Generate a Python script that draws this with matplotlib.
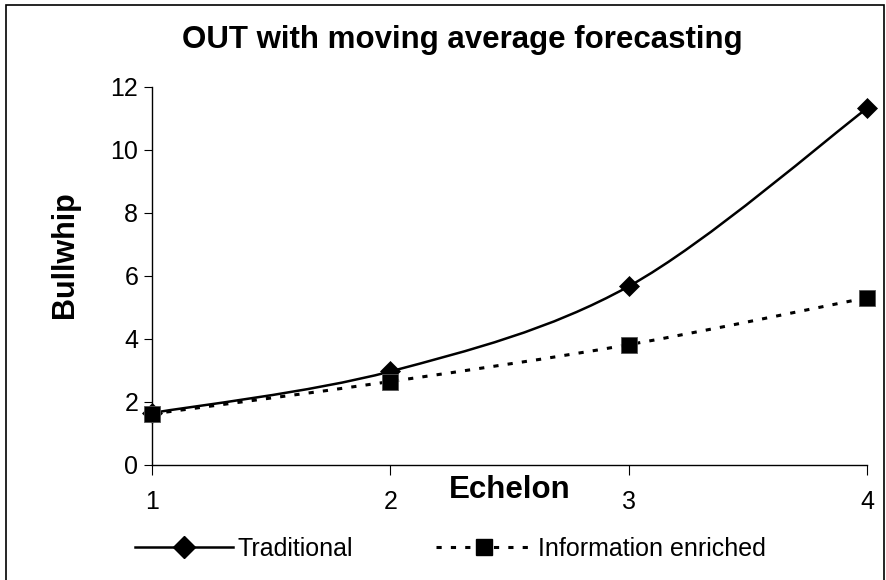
import numpy as np
import matplotlib.pyplot as plt
from matplotlib.path import Path
from matplotlib.patches import PathPatch, Rectangle
from matplotlib.lines import Line2D

plt.rcParams['font.family'] = ['Liberation Sans', 'DejaVu Sans']

echelon = [1, 2, 3, 4]
traditional = [1.65, 2.97, 5.67, 11.32]
enriched = [1.62, 2.65, 3.82, 5.31]
y_ticks = [0, 2, 4, 6, 8, 10, 12]


def smooth_path(xs, ys):
    # Excel style smoothed line: cubic Bezier through the points (Catmull-Rom)
    p = np.column_stack([xs, ys]).astype(float)
    p = np.vstack([p[0], p, p[-1]])
    verts = [p[1]]
    codes = [Path.MOVETO]
    for i in range(1, len(p) - 2):
        c1 = p[i] + (p[i + 1] - p[i - 1]) / 6
        c2 = p[i + 1] - (p[i + 2] - p[i]) / 6
        verts += [c1, c2, p[i + 1]]
        codes += [Path.CURVE4] * 3
    return Path(verts, codes)


fig = plt.figure(figsize=(8.87, 5.8), dpi=100)
ax = fig.add_axes([0.1714, 0.1983, 0.806, 0.6517])

ax.add_patch(PathPatch(smooth_path(echelon, traditional), fill=False,
                       edgecolor='black', lw=1.8, clip_on=False))
ax.add_patch(PathPatch(smooth_path(echelon, enriched), fill=False,
                       edgecolor='black', lw=2.2, linestyle=(0, (1.7, 3)),
                       clip_on=False))
ax.plot(echelon, traditional, linestyle='none', marker='D', ms=10,
        color='black', mew=0.5, clip_on=False, zorder=5)
ax.plot(echelon, enriched, linestyle='none', marker='s', ms=11.5,
        color='black', mec='#555555', mew=0.6, clip_on=False, zorder=5)

ax.set_xlim(1, 4)
ax.set_ylim(0, 12)
ax.set_xticks(echelon)
ax.set_yticks(y_ticks)
for s in ['top', 'right']:
    ax.spines[s].set_visible(False)
ax.spines['left'].set_linewidth(1)
ax.spines['bottom'].set_linewidth(1)
ax.tick_params(axis='y', direction='out', length=6, labelsize=18, pad=4)
ax.tick_params(axis='x', direction='out', length=7, labelsize=18, pad=11)

fig.text(462 / 887, 1 - 40 / 580, 'OUT with moving average forecasting',
         fontsize=22.5, fontweight='bold', ha='center', va='center')
ax.set_xlabel('Echelon', fontsize=22.5, fontweight='bold')
ax.xaxis.set_label_coords(0.5, -0.066)
ax.xaxis.label.set_va('center')
fig.text(65 / 887, 1 - 255 / 580, 'Bullwhip', rotation=90, fontsize=22,
         fontweight='bold', ha='center', va='center')

handles = [
    Line2D([], [], color='black', lw=1.8, marker='D', ms=11),
    Line2D([], [], color='black', lw=2.2, linestyle=(0, (1.7, 3)),
           marker='s', ms=12),
]
fig.legend(handles, ['Traditional', 'Information enriched'], ncol=2,
           loc='center left', bbox_to_anchor=(135 / 887, 1 - 549 / 580),
           frameon=False, fontsize=18, handlelength=3.9, handletextpad=0.2,
           columnspacing=3.3, borderpad=0, borderaxespad=0, numpoints=1)

fig.add_artist(Rectangle((6 / 887, -0.05), 878 / 887, 1.05 - 5 / 580,
                         transform=fig.transFigure, fill=False,
                         edgecolor='black', lw=1.2))

fig.savefig('out.png', dpi=100)
